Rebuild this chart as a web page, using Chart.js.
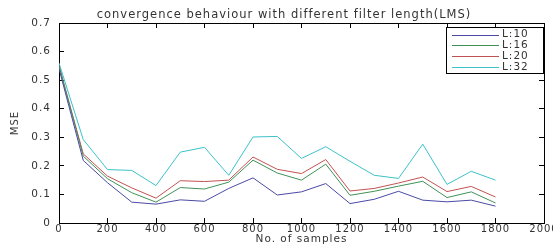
<!DOCTYPE html>
<html>
<head>
<meta charset="utf-8">
<script src="https://cdn.jsdelivr.net/npm/chart.js@4"></script>
<style>
  html, body { margin: 0; padding: 0; background: #fff; }
  #wrap { width: 553px; height: 244px; }
</style>
</head>
<body>
<div id="wrap"><canvas id="mseChart"></canvas></div>
<script>
// values
const samples = [0, 100, 200, 300, 400, 500, 600, 700, 800, 900, 1000, 1100, 1200, 1300, 1400, 1500, 1600, 1700, 1800];
const seriesNames = ["L:10", "L:16", "L:20", "L:32"];
const mseL10 = [0.540, 0.219, 0.141, 0.073, 0.066, 0.081, 0.076, 0.121, 0.158, 0.098, 0.109, 0.138, 0.068, 0.083, 0.111, 0.080, 0.074, 0.080, 0.059];
const mseL16 = [0.550, 0.234, 0.155, 0.106, 0.073, 0.124, 0.119, 0.143, 0.220, 0.175, 0.150, 0.206, 0.097, 0.111, 0.129, 0.146, 0.089, 0.109, 0.070];
const mseL20 = [0.550, 0.242, 0.164, 0.123, 0.087, 0.148, 0.145, 0.150, 0.231, 0.188, 0.173, 0.222, 0.112, 0.121, 0.140, 0.161, 0.110, 0.128, 0.091];
const mseL32 = [0.560, 0.292, 0.187, 0.184, 0.131, 0.248, 0.265, 0.167, 0.301, 0.303, 0.226, 0.267, 0.216, 0.167, 0.156, 0.276, 0.135, 0.181, 0.150];
const xTicks = { min: 0, max: 2000, step: 200 };
const yTicks = { min: 0, max: 0.7, step: 0.1 };

const colors = ["#4a4aa6", "#3f9256", "#c25252", "#3cc2c8"];
const FONT = "'DejaVu Sans', sans-serif";

function toPoints(values) {
  return samples.map((s, i) => ({ x: s, y: values[i] }));
}

// fixed axis sizes, no extra room for edge labels (last x label gets clipped like the original)
function fixSize(w, h) {
  return (scale) => {
    if (w !== null) scale.width = w;
    if (h !== null) scale.height = h;
    scale.paddingLeft = 0;
    scale.paddingRight = 0;
    scale.paddingTop = 0;
    scale.paddingBottom = 0;
  };
}

// the old plot has wide, spaced-out lettering
const wideText = {
  id: "wideText",
  beforeDraw(chart) {
    chart.ctx.letterSpacing = "1px";
  }
};

// legend box inside the axes, matlab style
const boxLegend = {
  id: "boxLegend",
  afterDraw(chart) {
    const ctx = chart.ctx;
    const area = chart.chartArea;
    const w = 97, h = 46;
    const left = area.right - w - 1, top = area.top + 4;
    ctx.save();
    ctx.fillStyle = "#fff";
    ctx.strokeStyle = "#000";
    ctx.lineWidth = 1;
    ctx.fillRect(left, top, w, h);
    ctx.strokeRect(left + 0.5, top + 0.5, w, h);
    ctx.font = "10.5px " + FONT;
    ctx.textBaseline = "middle";
    chart.data.datasets.forEach((ds, i) => {
      const y = top + 7.5 + i * 10.8;
      ctx.strokeStyle = ds.borderColor;
      ctx.beginPath();
      ctx.moveTo(left + 6, Math.round(y) + 0.5);
      ctx.lineTo(left + 53, Math.round(y) + 0.5);
      ctx.stroke();
      ctx.fillStyle = "#333";
      ctx.fillText(ds.label, left + 56, y);
    });
    ctx.restore();
  }
};

const tickGrid = {
  drawOnChartArea: false,
  drawTicks: true,
  tickLength: -5,
  tickColor: "#000",
  tickWidth: 1
};
const axisBorder = { display: true, color: "#000", width: 1 };

new Chart(document.getElementById("mseChart"), {
  type: "line",
  data: {
    datasets: [mseL10, mseL16, mseL20, mseL32].map((vals, i) => ({
      label: seriesNames[i],
      data: toPoints(vals),
      borderColor: colors[i],
      borderWidth: 1,
      pointRadius: 0,
      tension: 0,
      fill: false
    }))
  },
  options: {
    responsive: true,
    maintainAspectRatio: false,
    animation: false,
    layout: { padding: { left: 24, right: 9, top: 0, bottom: 0 } },
    plugins: {
      legend: { display: false },
      tooltip: { enabled: false },
      title: {
        display: true,
        text: "convergence behaviour with different filter length(LMS)",
        color: "#333",
        font: { family: FONT, size: 11.5, weight: "normal", lineHeight: 1.2 },
        padding: { top: 8, bottom: 1.2 }
      }
    },
    scales: {
      x: {
        type: "linear",
        position: "bottom",
        min: xTicks.min,
        max: xTicks.max,
        grid: tickGrid,
        border: axisBorder,
        ticks: {
          stepSize: xTicks.step,
          padding: 5,
          maxRotation: 0,
          autoSkip: false,
          color: "#333",
          font: { family: FONT, size: 10 },
          callback: (v) => String(v)
        },
        title: {
          display: true,
          text: "No. of samples",
          color: "#333",
          font: { family: FONT, size: 10.5, lineHeight: 1 },
          padding: { top: 0, bottom: -1 }
        },
        afterFit: fixSize(null, 21)
      },
      x2: {
        type: "linear",
        position: "top",
        min: xTicks.min,
        max: xTicks.max,
        grid: tickGrid,
        border: axisBorder,
        ticks: { stepSize: xTicks.step, display: false },
        afterFit: fixSize(null, 0)
      },
      y: {
        position: "left",
        min: yTicks.min,
        max: yTicks.max,
        grid: tickGrid,
        border: axisBorder,
        ticks: {
          stepSize: yTicks.step,
          padding: 13,
          color: "#333",
          font: { family: FONT, size: 10.5 }
        },
        title: {
          display: true,
          text: "MSE",
          color: "#333",
          font: { family: FONT, size: 10, lineHeight: 1 },
          padding: { top: -14, bottom: 0 }
        },
        afterFit: fixSize(35, null)
      },
      y2: {
        position: "right",
        min: yTicks.min,
        max: yTicks.max,
        grid: tickGrid,
        border: axisBorder,
        ticks: { stepSize: yTicks.step, display: false },
        afterFit: fixSize(0, null)
      }
    }
  },
  plugins: [wideText, boxLegend]
});
</script>
</body>
</html>
